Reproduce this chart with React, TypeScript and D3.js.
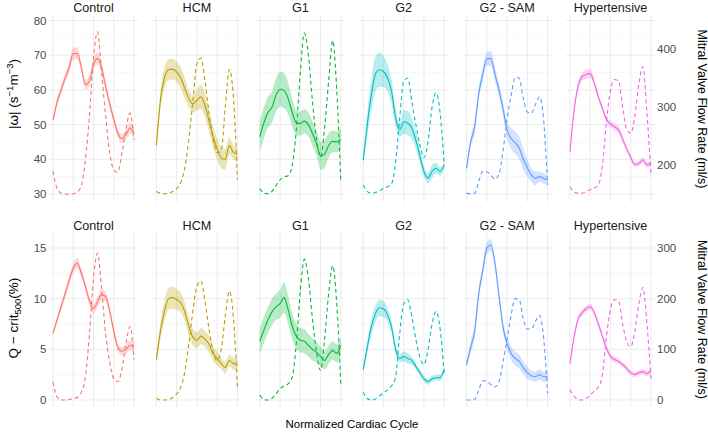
import * as d3 from "d3";
import { useEffect, useRef } from "react";

// facets and their ggplot hue colours
const groups = ["Control", "HCM", "G1", "G2", "G2 - SAM", "Hypertensive"];
const groupColors = ["#F8766D", "#B79F00", "#00BA38", "#00BFC4", "#619CFF", "#F564E3"];

// normalized cardiac cycle samples
const cycle = [0, 0.05, 0.1, 0.15, 0.2, 0.25, 0.3, 0.35, 0.4, 0.45, 0.5, 0.55, 0.6, 0.65, 0.7, 0.75, 0.8, 0.85, 0.9, 0.95, 1];

// |omega| mean per group (s^-1 m^-3)
const vorticity = [
  [51.3, 56.5, 60, 63.4, 66.5, 70.5, 70.5, 66.5, 61.5, 62.5, 67.5, 69, 66.5, 61, 56, 51.5, 47.5, 46, 47, 49, 47.5],
  [44, 57, 63.5, 65.8, 66, 65.2, 63.5, 60.5, 57.5, 56, 57, 58, 55.5, 51, 46.5, 43, 40.5, 40, 44, 42, 41.5],
  [46.5, 50.5, 53.5, 55, 58.5, 60.2, 59.8, 57.5, 53.5, 50.5, 50.3, 51, 50, 47.5, 44.5, 41, 41.5, 44, 45.2, 45, 45.8],
  [39.8, 50, 58.5, 64.5, 65.8, 65.3, 63.5, 59.5, 52, 48.5, 50.8, 50.4, 49, 45.5, 41, 36.5, 34.6, 36.5, 37.4, 36.5, 38.4],
  [37.4, 45, 49.4, 59, 64.5, 69, 69, 64.5, 60, 54.5, 48.5, 46, 44.8, 43.2, 40, 37.5, 35.5, 34.5, 35, 34.5, 34],
  [42.2, 54, 61, 63.8, 64.5, 64.7, 62, 58, 54.7, 51.5, 50.2, 49.3, 48.5, 45.8, 43, 40.5, 38.5, 38.8, 39.8, 38.4, 38.8],
];
const vorticityCi = [
  [1.0, 1.2, 1.3, 1.3, 1.5, 1.8, 1.7, 1.4, 1.4, 1.5, 1.8, 1.8, 1.6, 1.3, 1.2, 1.2, 1.3, 1.3, 1.4, 1.5, 1.5],
  [1.5, 2.5, 3.0, 3.0, 3.0, 3.0, 3.0, 3.0, 2.5, 2.5, 3.0, 3.5, 3.5, 3.0, 3.0, 3.0, 3.0, 3.0, 2.5, 2.0, 2.0],
  [4.5, 4.5, 4.5, 4.5, 4.8, 5.0, 5.0, 4.5, 4.0, 3.5, 3.5, 3.5, 3.5, 3.5, 3.5, 4.0, 4.0, 3.5, 3.2, 3.0, 3.0],
  [1.5, 3.5, 4.5, 5.0, 5.0, 4.5, 4.0, 3.5, 2.5, 2.0, 3.5, 3.5, 3.0, 2.5, 2.0, 1.5, 1.5, 2.0, 1.5, 1.2, 1.0],
  [1.0, 1.5, 2.0, 2.0, 1.8, 2.0, 2.2, 2.0, 1.8, 2.0, 2.5, 3.0, 3.2, 3.2, 3.0, 2.5, 2.0, 2.0, 1.5, 1.5, 1.5],
  [0.8, 1.0, 1.2, 1.2, 1.3, 1.3, 1.0, 0.8, 0.8, 0.8, 0.9, 1.0, 1.0, 0.9, 0.8, 0.8, 0.8, 0.8, 0.8, 0.8, 0.8],
];
// mitral valve flow rate against the top-row secondary axis (ml/s)
const flowTop = [
  [190, 160, 152, 150, 150, 151, 154, 165, 210, 285, 385, 430, 360, 285, 222, 192, 188, 220, 262, 290, 244],
  [155, 152, 151, 152, 155, 160, 170, 195, 245, 310, 375, 385, 345, 290, 245, 222, 225, 300, 365, 320, 175],
  [160, 152, 151, 155, 165, 175, 180, 182, 200, 260, 360, 428, 390, 310, 245, 215, 265, 345, 415, 330, 172],
  [166, 155, 152, 153, 156, 160, 163, 168, 205, 280, 345, 350, 310, 270, 235, 213, 240, 300, 325, 290, 203],
  [152, 151, 152, 172, 190, 189, 183, 176, 185, 225, 280, 320, 352, 350, 315, 292, 290, 305, 318, 280, 166],
  [163, 154, 152, 152, 155, 158, 161, 166, 200, 275, 330, 348, 345, 300, 262, 255, 285, 340, 370, 290, 183],
];

// Q-criterion (%) mean per group
const qCrit = [
  [6.6, 7.9, 9.2, 10.5, 11.8, 13.0, 13.5, 12.5, 11.2, 9.8, 9.0, 9.7, 10.4, 10.2, 8.8, 6.8, 5.2, 4.8, 5.0, 5.4, 5.3],
  [4.0, 6.8, 8.8, 10.0, 10.1, 9.9, 9.6, 8.7, 7.3, 6.2, 5.9, 6.3, 6.0, 5.5, 4.6, 4.1, 3.6, 3.2, 3.9, 3.6, 3.5],
  [5.8, 6.9, 7.9, 8.7, 9.2, 9.5, 10.1, 8.9, 7.3, 6.3, 5.9, 5.8, 5.4, 5.0, 4.7, 4.3, 3.9, 4.5, 4.9, 4.6, 5.4],
  [3.0, 5.2, 7.2, 8.5, 9.1, 9.0, 8.4, 7.2, 5.0, 4.1, 4.3, 4.1, 3.9, 3.3, 2.7, 2.1, 1.8, 2.1, 2.2, 2.2, 3.0],
  [3.5, 5.2, 6.8, 10.5, 12.8, 15.0, 15.3, 13.5, 10.3, 7.2, 5.6, 4.6, 4.1, 3.8, 3.2, 2.7, 2.4, 2.3, 2.5, 2.3, 2.3],
  [3.6, 6.2, 8.0, 8.6, 9.0, 9.2, 8.6, 7.5, 6.3, 5.1, 4.3, 4.0, 3.8, 3.5, 3.1, 2.7, 2.5, 2.7, 2.8, 2.6, 2.9],
];
const qCritCi = [
  [0.3, 0.35, 0.4, 0.4, 0.45, 0.5, 0.5, 0.45, 0.45, 0.45, 0.5, 0.55, 0.55, 0.45, 0.4, 0.4, 0.4, 0.4, 0.45, 0.5, 0.5],
  [0.5, 0.8, 1.0, 1.1, 1.1, 1.0, 1.0, 0.9, 0.9, 0.8, 0.8, 0.8, 0.8, 0.8, 0.7, 0.7, 0.6, 0.6, 0.6, 0.6, 0.6],
  [1.3, 1.3, 1.3, 1.3, 1.3, 1.4, 1.5, 1.4, 1.3, 1.2, 1.2, 1.2, 1.1, 1.1, 1.0, 1.0, 0.9, 0.9, 0.9, 0.9, 0.9],
  [0.3, 0.6, 0.8, 0.8, 0.8, 0.8, 0.7, 0.6, 0.5, 0.4, 0.5, 0.5, 0.4, 0.3, 0.3, 0.3, 0.3, 0.3, 0.3, 0.3, 0.3],
  [0.4, 0.6, 0.7, 0.6, 0.6, 0.6, 0.6, 0.5, 0.5, 0.5, 0.6, 0.7, 0.7, 0.7, 0.6, 0.6, 0.5, 0.5, 0.5, 0.5, 0.5],
  [0.2, 0.3, 0.3, 0.3, 0.3, 0.3, 0.3, 0.3, 0.3, 0.3, 0.3, 0.3, 0.3, 0.25, 0.25, 0.25, 0.25, 0.25, 0.25, 0.25, 0.25],
];
// mitral valve flow rate against the bottom-row secondary axis (ml/s)
const flowBottom = [
  [36, 6, 0, 0, 1, 3, 5, 15, 45, 130, 240, 290, 220, 130, 75, 42, 36, 60, 110, 145, 80],
  [3, 0, 0, 1, 5, 12, 25, 55, 110, 175, 225, 235, 195, 140, 95, 78, 100, 165, 215, 165, 26],
  [10, 1, 0, 3, 12, 22, 28, 32, 45, 110, 215, 278, 240, 160, 95, 58, 120, 210, 265, 190, 30],
  [16, 3, 0, 2, 8, 14, 20, 28, 45, 130, 190, 198, 165, 120, 84, 70, 100, 150, 175, 140, 49],
  [0, 0, 1, 20, 38, 37, 30, 26, 36, 75, 120, 168, 200, 198, 160, 140, 140, 155, 167, 125, 13],
  [20, 7, 1, 0, 3, 10, 18, 25, 50, 125, 180, 198, 195, 150, 115, 105, 135, 190, 222, 150, 40],
];

const vortTicks = [30, 40, 50, 60, 70, 80];
const vortMinor = [35, 45, 55, 65, 75];
const qTicks = [0, 5, 10, 15];
const qMinor = [2.5, 7.5, 12.5];
const flowTopTicks = [200, 300, 400];
const flowBottomTicks = [0, 100, 200, 300];
const cycleGrid = [0, 0.25, 0.5, 0.75, 1];

const FONT = "'Liberation Sans', Arial, sans-serif";

const App: React.FC = () => {
  const ref = useRef<SVGSVGElement>(null);

  const width = 708;
  const height = 434;
  const firstX = 53; // x of cycle 0 in the first facet
  const step = 103.4; // facet spacing
  const dataW = 81; // width of cycle 0..1
  const pad = 4; // panel expansion

  useEffect(() => {
    if (!ref.current) return;
    const svg = d3.select(ref.current);
    svg.selectAll("*").remove();

    const rows = [
      {
        mean: vorticity, ci: vorticityCi, flow: flowTop,
        y: d3.scaleLinear().domain([30, 80]).range([194, 20.5]),
        yFlow: d3.scaleLinear().domain([200, 400]).range([165.3, 49.3]),
        ticks: vortTicks, minor: vortMinor, flowTicks: flowTopTicks,
        top: 16, bottom: 202, stripY: 11.7, titleY: 94,
      },
      {
        mean: qCrit, ci: qCritCi, flow: flowBottom,
        y: d3.scaleLinear().domain([0, 15]).range([400, 248]),
        yFlow: d3.scaleLinear().domain([0, 300]).range([400, 248]),
        ticks: qTicks, minor: qMinor, flowTicks: flowBottomTicks,
        top: 232, bottom: 407, stripY: 229.5, titleY: 318,
      },
    ];

    rows.forEach((row, r) => {
      groups.forEach((name, g) => {
        const x0 = firstX + g * step;
        const x = d3.scaleLinear().domain([0, 1]).range([x0, x0 + dataW]);
        const panel = svg.append("g");

        // grid
        panel.selectAll("line.minor")
          .data(row.minor)
          .enter()
          .append("line")
          .attr("x1", x0 - pad).attr("x2", x0 + dataW + pad)
          .attr("y1", d => row.y(d)).attr("y2", d => row.y(d))
          .attr("stroke", "#f2f2f2").attr("stroke-width", 0.6);
        panel.selectAll("line.major")
          .data(row.ticks)
          .enter()
          .append("line")
          .attr("x1", x0 - pad).attr("x2", x0 + dataW + pad)
          .attr("y1", d => row.y(d)).attr("y2", d => row.y(d))
          .attr("stroke", "#ebebeb").attr("stroke-width", 1);
        panel.selectAll("line.vert")
          .data(cycleGrid)
          .enter()
          .append("line")
          .attr("x1", d => x(d)).attr("x2", d => x(d))
          .attr("y1", row.top).attr("y2", row.bottom)
          .attr("stroke", "#ebebeb").attr("stroke-width", 1);

        const pts = cycle.map((c, i) => ({
          c, m: row.mean[g][i], lo: row.mean[g][i] - row.ci[g][i], hi: row.mean[g][i] + row.ci[g][i], f: row.flow[g][i],
        }));

        // confidence ribbon
        const area = d3.area<typeof pts[0]>()
          .x(d => x(d.c)).y0(d => row.y(d.lo)).y1(d => row.y(d.hi))
          .curve(d3.curveMonotoneX);
        panel.append("path").attr("d", area(pts))
          .attr("fill", groupColors[g]).attr("fill-opacity", 0.28);

        // flow rate, dashed, on the secondary axis
        const flowLine = d3.line<typeof pts[0]>()
          .x(d => x(d.c)).y(d => row.yFlow(d.f))
          .curve(d3.curveMonotoneX);
        panel.append("path").attr("d", flowLine(pts))
          .attr("fill", "none").attr("stroke", groupColors[g])
          .attr("stroke-width", 1.1).attr("stroke-dasharray", "4,3");

        // mean line
        const meanLine = d3.line<typeof pts[0]>()
          .x(d => x(d.c)).y(d => row.y(d.m))
          .curve(d3.curveMonotoneX);
        panel.append("path").attr("d", meanLine(pts))
          .attr("fill", "none").attr("stroke", groupColors[g]).attr("stroke-width", 1.1);

        // strip label
        svg.append("text")
          .attr("x", x0 + dataW / 2).attr("y", row.stripY)
          .attr("text-anchor", "middle")
          .style("font-family", FONT).style("font-size", "12.6px").style("fill", "#1a1a1a")
          .text(name);
      });

      // left axis labels
      svg.selectAll(`text.left${r}`)
        .data(row.ticks)
        .enter()
        .append("text")
        .attr("x", 46.5).attr("y", d => row.y(d)).attr("dy", "0.35em")
        .attr("text-anchor", "end")
        .style("font-family", FONT).style("font-size", "11.5px").style("fill", "#4d4d4d")
        .text(d => d);

      // right axis labels
      svg.selectAll(`text.right${r}`)
        .data(row.flowTicks)
        .enter()
        .append("text")
        .attr("x", 657).attr("y", d => row.yFlow(d)).attr("dy", "0.35em")
        .attr("text-anchor", "start")
        .style("font-family", FONT).style("font-size", "11.5px").style("fill", "#4d4d4d")
        .text(d => d);

      // right axis title
      svg.append("text")
        .attr("transform", `translate(698, ${(row.top + row.bottom) / 2}) rotate(90)`)
        .attr("text-anchor", "middle")
        .style("font-family", FONT).style("font-size", "12.5px").style("fill", "#000")
        .text("Mitral Valve Flow Rate (ml/s)");
    });

    // left axis titles
    const t1 = svg.append("text")
      .attr("transform", `translate(18, ${rows[0].titleY}) rotate(-90)`)
      .attr("text-anchor", "middle")
      .style("font-family", FONT).style("font-size", "13.5px").style("fill", "#000");
    t1.append("tspan").text("|ω| (s");
    t1.append("tspan").attr("dy", -5).style("font-size", "9.5px").text("−1");
    t1.append("tspan").attr("dy", 5).text("m");
    t1.append("tspan").attr("dy", -5).style("font-size", "9.5px").text("−3");
    t1.append("tspan").attr("dy", 5).text(")");

    const t2 = svg.append("text")
      .attr("transform", `translate(18, ${rows[1].titleY}) rotate(-90)`)
      .attr("text-anchor", "middle")
      .style("font-family", FONT).style("font-size", "13.5px").style("fill", "#000");
    t2.append("tspan").text("Q − crit");
    t2.append("tspan").attr("dy", 3).style("font-size", "9.5px").text("500");
    t2.append("tspan").attr("dy", -3).text("(%)");

    // x axis title
    svg.append("text")
      .attr("x", (firstX - pad + firstX + 5 * step + dataW + pad) / 2).attr("y", 428)
      .attr("text-anchor", "middle")
      .style("font-family", FONT).style("font-size", "11.5px").style("fill", "#000")
      .text("Normalized Cardiac Cycle");
  }, []);

  return (
    <svg
      ref={ref}
      width={width}
      height={height}
      style={{ position: "absolute", left: 0, top: 0, background: "#fff", display: "block" }}
    ></svg>
  );
};

export default App;
